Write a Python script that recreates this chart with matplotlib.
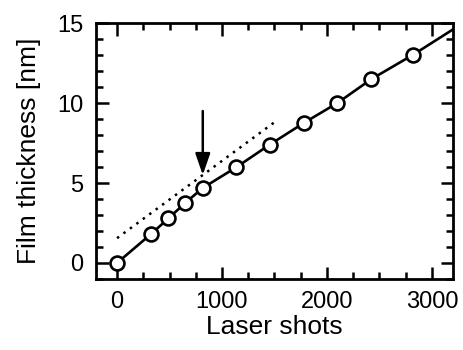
import matplotlib
matplotlib.use("Agg")
import matplotlib.pyplot as plt
from matplotlib.ticker import MultipleLocator

plt.rcParams['font.family'] = ['Liberation Sans', 'DejaVu Sans']

# Data
shots = [0, 324, 490, 649, 817, 1135, 1453, 1778, 2099, 2424, 2821]
thickness = [0.0, 1.81, 2.79, 3.75, 4.69, 5.98, 7.39, 8.75, 10.0, 11.5, 13.02]

# Solid line extension beyond last point
line_x = shots + [3200]
line_y = thickness + [14.6]

# Dotted fit line
dot_x = [0, 1500]
dot_y = [1.55, 8.8]

# Arrow marking point
arrow_x = 817
arrow_y_start = 9.5
arrow_y_end = 5.5

fig = plt.figure(figsize=(4.64, 3.5), dpi=100)
ax = fig.add_axes([0.207, 0.203, 0.769, 0.731])

ax.plot(dot_x, dot_y, linestyle=(0, (1, 2.2)), color='black', linewidth=1.8)
ax.plot(line_x, line_y, color='black', linewidth=1.9)
ax.plot(shots, thickness, linestyle='none', marker='o', markersize=10,
        markerfacecolor='white', markeredgecolor='black', markeredgewidth=1.9)

ax.annotate('', xy=(arrow_x, arrow_y_end), xytext=(arrow_x, arrow_y_start),
            arrowprops=dict(arrowstyle='-|>,head_length=1.3,head_width=0.45',
                            color='black', lw=1.8, shrinkA=0, shrinkB=0))

ax.set_xlim(-200, 3200)
ax.set_ylim(-1, 15)
ax.xaxis.set_major_locator(MultipleLocator(1000))
ax.xaxis.set_minor_locator(MultipleLocator(250))
ax.yaxis.set_major_locator(MultipleLocator(5))
ax.yaxis.set_minor_locator(MultipleLocator(1))

ax.tick_params(which='both', direction='in', top=True, right=True, width=1.8,
               labelsize=17, pad=9)
ax.tick_params(which='major', length=9)
ax.tick_params(which='minor', length=5)
for s in ax.spines.values():
    s.set_linewidth(2)

ax.set_xlabel('Laser shots', fontsize=19, labelpad=1)
ax.set_ylabel('Film thickness [nm]', fontsize=19, labelpad=12)

fig.savefig('out.png', dpi=100)
